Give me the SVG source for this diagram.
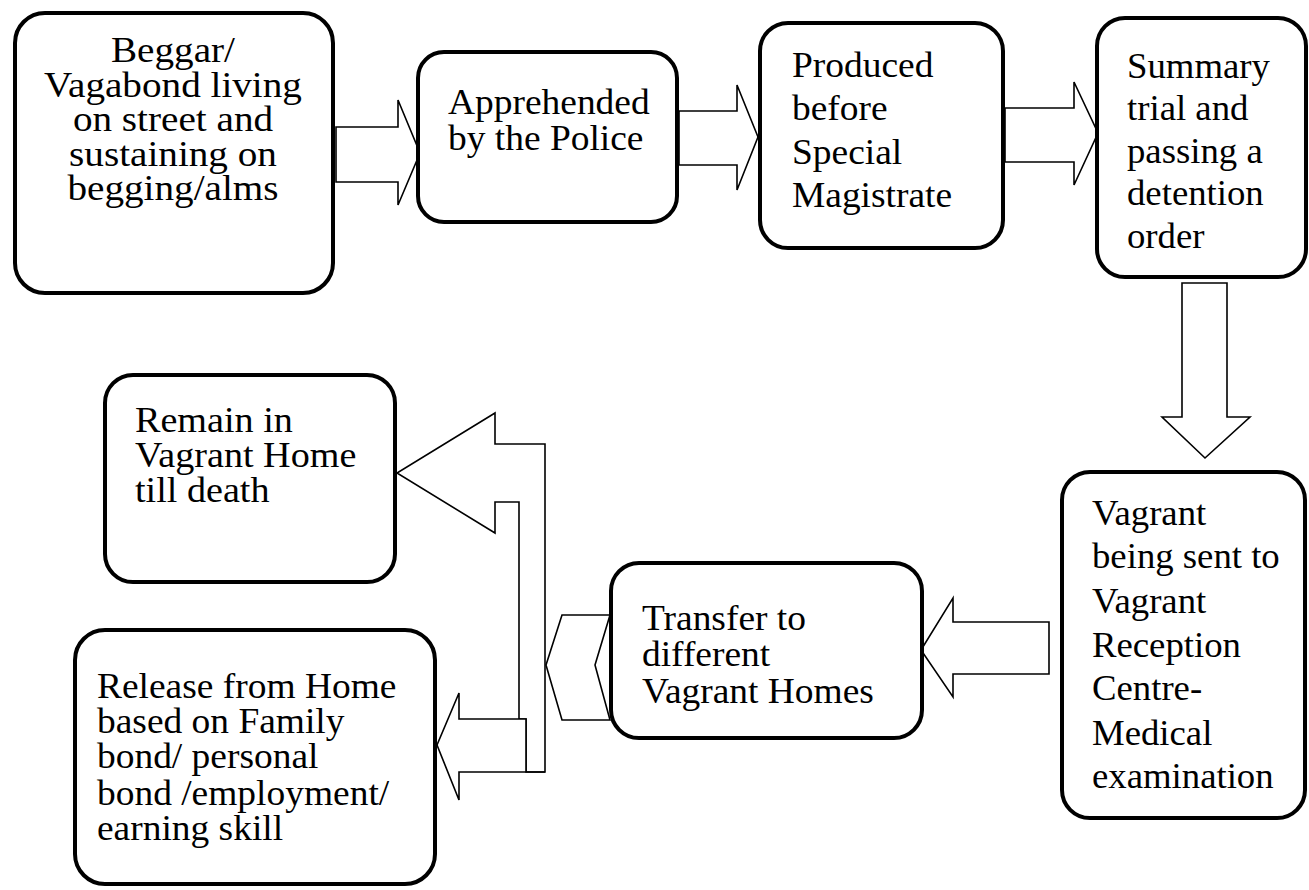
<svg xmlns="http://www.w3.org/2000/svg" width="1309" height="890" viewBox="0 0 1309 890">
<style>
.box{fill:#fff;stroke:#000;stroke-width:4}
.arr{fill:#fff;stroke:#000;stroke-width:1.6;stroke-linejoin:miter}
.t{font-family:'Liberation Serif','Times New Roman',serif;font-size:35px;fill:#000}
.c{text-anchor:middle}
</style>
<rect width="1309" height="890" fill="#fff"/>
<g id="connectors">
<polygon class="arr" points="336,127 398,127 398,100 420,153 398,205 398,182 336,182"/>
<polygon class="arr" points="679,111 737,111 737,85 758,137 737,190 737,165 679,165"/>
<polygon class="arr" points="1005,108 1074,108 1074,82 1098,133 1074,185 1074,162 1005,162"/>
<polygon class="arr" points="1182,283 1227,283 1227,417 1250,417 1205,458 1162,417 1182,417"/>
<polygon class="arr" points="1049,622 953,622 953,598 921,650 953,697 953,674 1049,674"/>
<polygon class="arr" points="562,615 610,615 595,665 610,720 562,720 546,665"/>
<polygon class="arr" points="519,719 519,502 495,502 495,533 397,473 495,413 495,444 545,444 545,772 526,772 526,719"/>
<polygon class="arr" points="545,772 459,772 459,800 437,745 459,693 459,719 526,719 526,772"/>
</g>
<g id="n1">
<rect class="box" x="15" y="13" width="318" height="280" rx="30"/>
<g transform="translate(173 0) scale(1.12 1) translate(-173 0)">
<text class="t c" x="173" y="62">Beggar/</text>
<text class="t c" x="173" y="97">Vagabond living</text>
<text class="t c" x="173" y="131">on street and</text>
<text class="t c" x="173" y="166">sustaining on</text>
<text class="t c" x="173" y="200">begging/alms</text>
</g>
</g>
<g id="n2">
<rect class="box" x="418" y="52" width="259" height="170" rx="26"/>
<g transform="translate(448 0) scale(1.07 1) translate(-448 0)">
<text class="t" x="448" y="114">Apprehended</text>
<text class="t" x="448" y="150">by the Police</text>
</g>
</g>
<g id="n3">
<rect class="box" x="760" y="23" width="243" height="225" rx="28"/>
<g transform="translate(792 0) scale(1.07 1) translate(-792 0)">
<text class="t" x="792" y="77">Produced</text>
<text class="t" x="792" y="120">before</text>
<text class="t" x="792" y="164">Special</text>
<text class="t" x="792" y="207">Magistrate</text>
</g>
</g>
<g id="n4">
<rect class="box" x="1097" y="18" width="209" height="259" rx="28"/>
<g transform="translate(1127 0) scale(1.05 1) translate(-1127 0)">
<text class="t" x="1127" y="78">Summary</text>
<text class="t" x="1127" y="120">trial and</text>
<text class="t" x="1127" y="163">passing a</text>
<text class="t" x="1127" y="205">detention</text>
<text class="t" x="1127" y="248">order</text>
</g>
</g>
<g id="n5">
<rect class="box" x="1062" y="472" width="243" height="346" rx="28"/>
<g transform="translate(1092 0) scale(1.05 1) translate(-1092 0)">
<text class="t" x="1092" y="525">Vagrant</text>
<text class="t" x="1092" y="568">being sent to</text>
<text class="t" x="1092" y="613">Vagrant</text>
<text class="t" x="1092" y="657">Reception</text>
<text class="t" x="1092" y="700">Centre-</text>
<text class="t" x="1092" y="745">Medical</text>
<text class="t" x="1092" y="788">examination</text>
</g>
</g>
<g id="n6">
<rect class="box" x="611" y="563" width="311" height="175" rx="28"/>
<g transform="translate(642 0) scale(1.07 1) translate(-642 0)">
<text class="t" x="642" y="630">Transfer to</text>
<text class="t" x="642" y="666">different</text>
<text class="t" x="642" y="703">Vagrant Homes</text>
</g>
</g>
<g id="n7">
<rect class="box" x="105" y="375" width="290" height="207" rx="28"/>
<g transform="translate(135 0) scale(1.09 1) translate(-135 0)">
<text class="t" x="135" y="432">Remain in</text>
<text class="t" x="135" y="467">Vagrant Home</text>
<text class="t" x="135" y="502">till death</text>
</g>
</g>
<g id="n8">
<rect class="box" x="75" y="630" width="360" height="254" rx="30"/>
<g transform="translate(97 0) scale(1.07 1) translate(-97 0)">
<text class="t" x="97" y="698">Release from Home</text>
<text class="t" x="97" y="733">based on Family</text>
<text class="t" x="97" y="768">bond/ personal</text>
<text class="t" x="97" y="805">bond /employment/</text>
<text class="t" x="97" y="840">earning skill</text>
</g>
</g>
</svg>
